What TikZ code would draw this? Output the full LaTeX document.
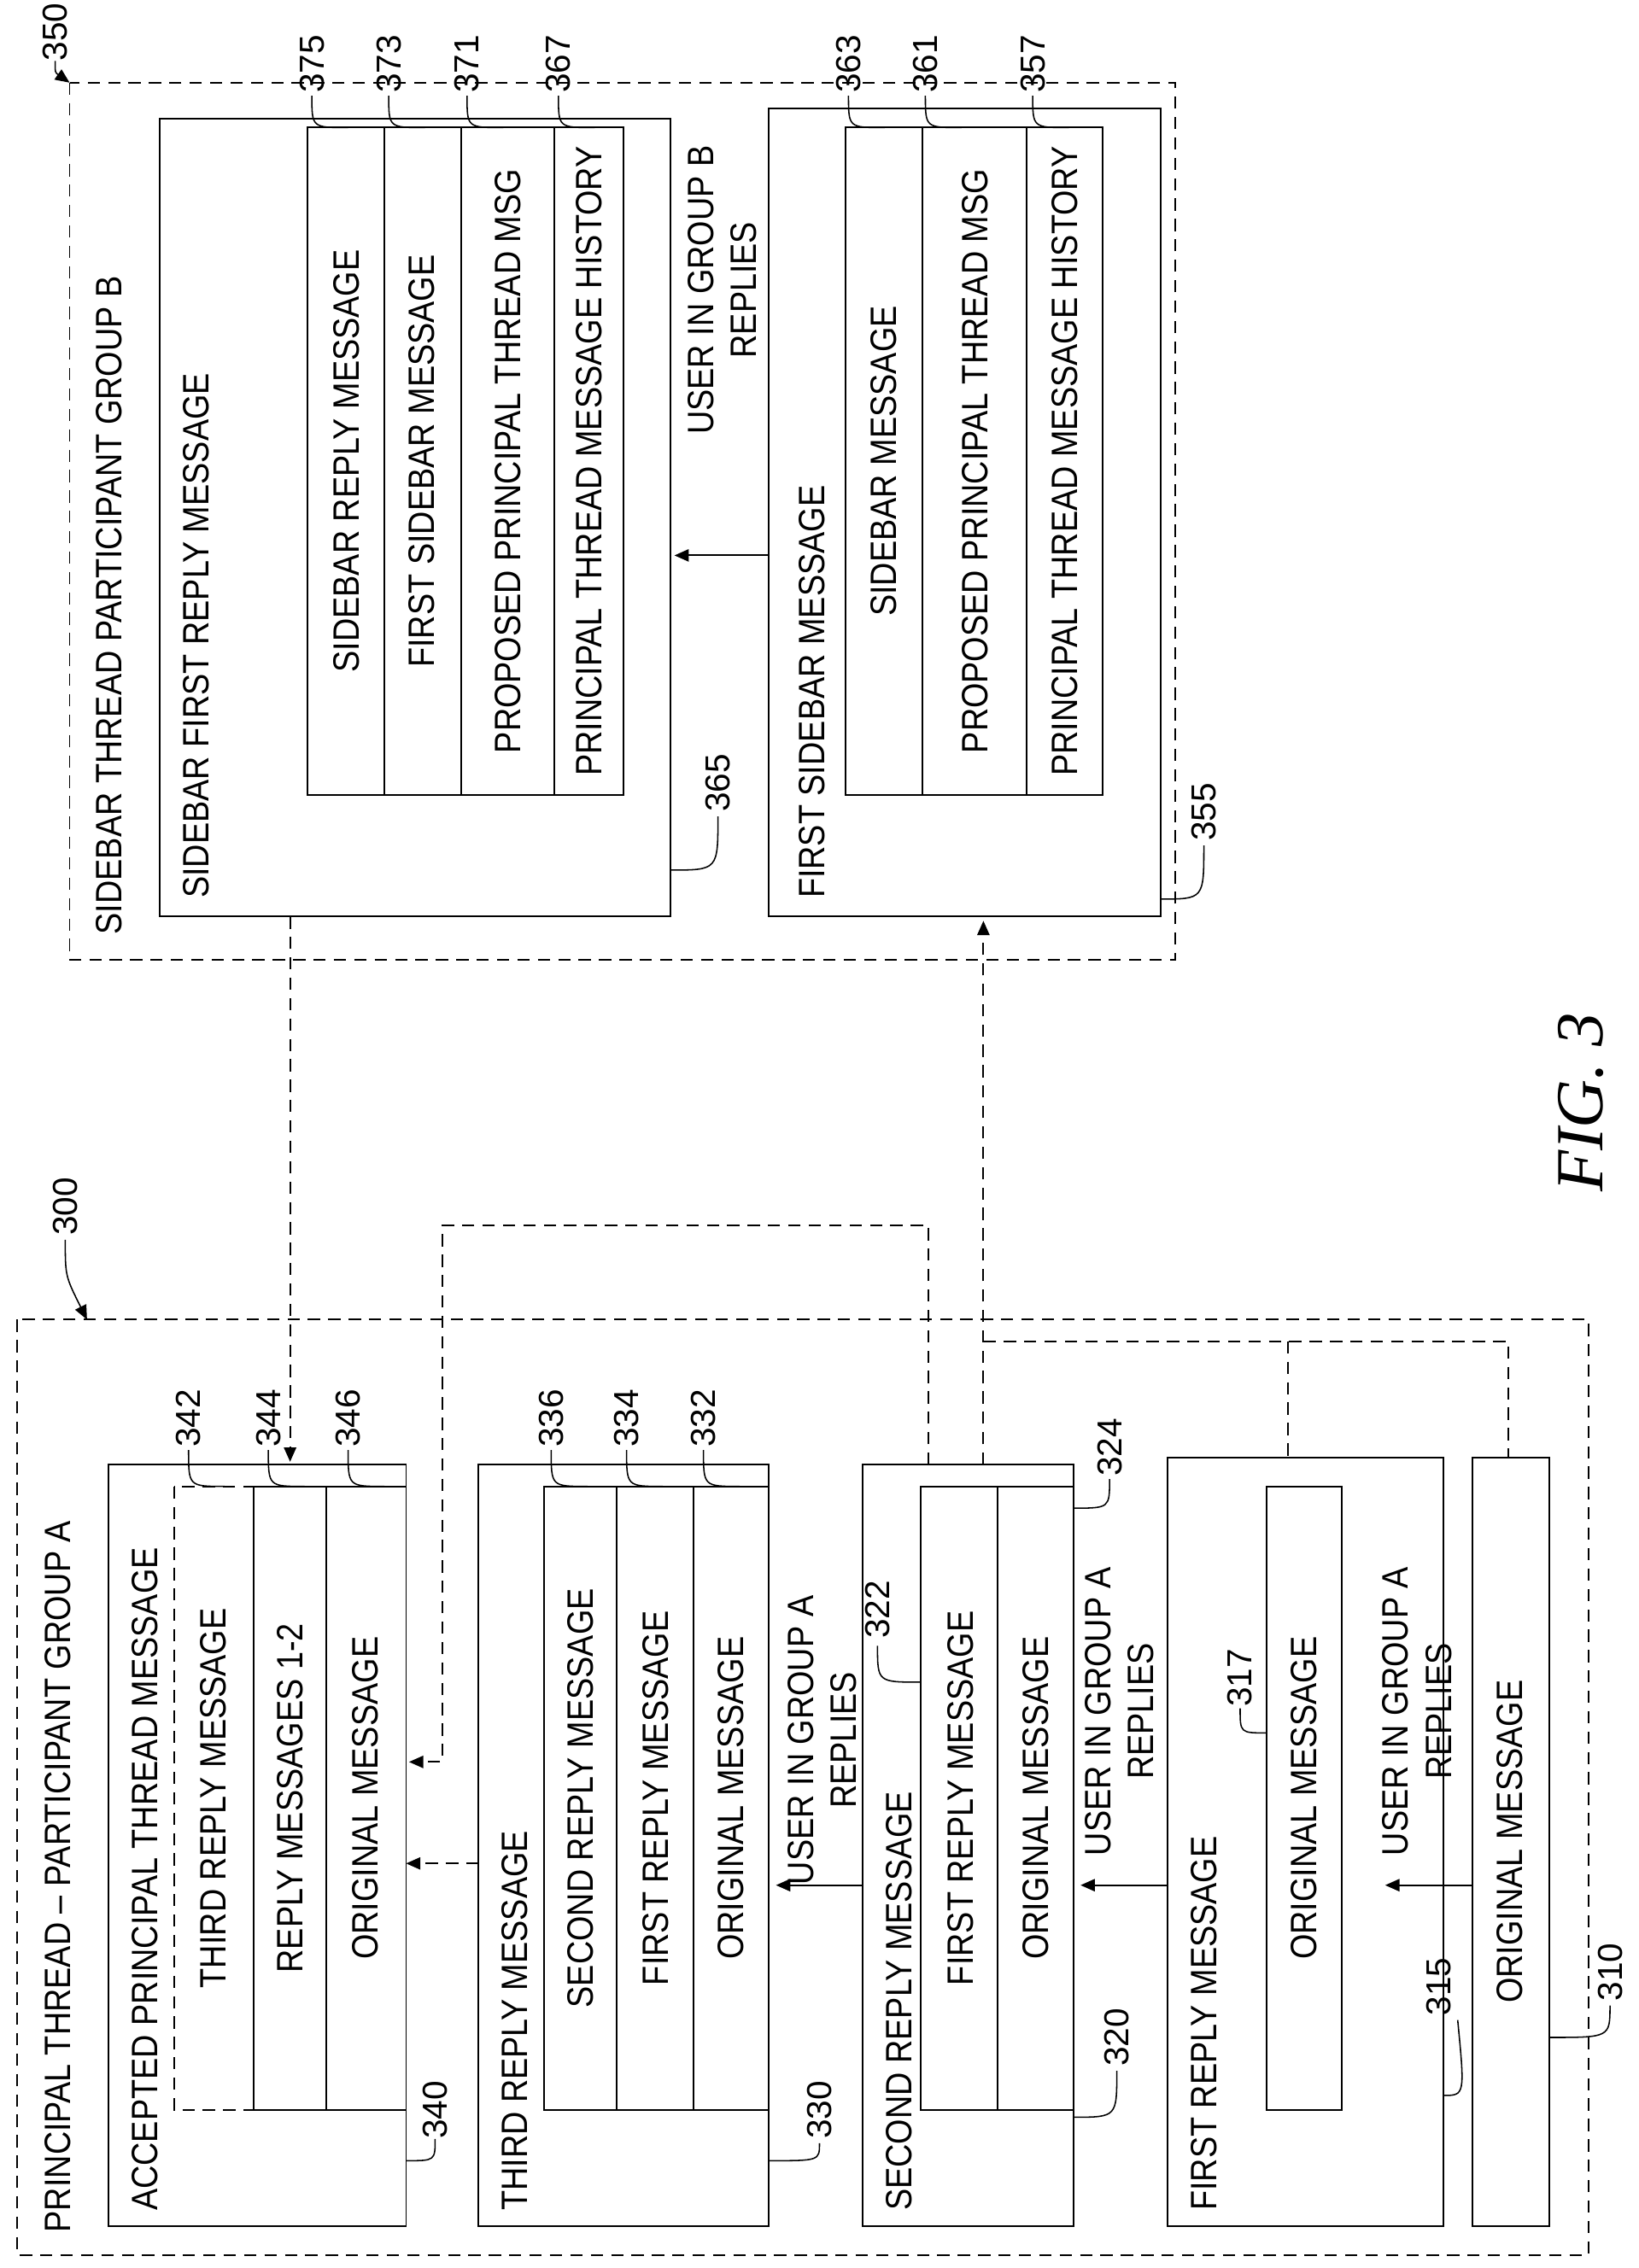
\documentclass[tikz,border=0pt]{standalone}
\usepackage{fontspec}
\setmainfont{Liberation Sans}
\newfontfamily\figfont{Liberation Serif}
\usetikzlibrary{arrows.meta}
\newcommand{\tx}[1]{\scalebox{0.88}[1]{#1}}
\begin{document}
\begin{tikzpicture}[x=0.05cm,y=-0.05cm,line width=1.6pt,
 t/.style={rotate=90,inner sep=0pt,font=\fontsize{36}{42}\selectfont},
 tl/.style={t,anchor=west},
 num/.style={rotate=90,inner sep=0pt,font=\fontsize{34}{40}\selectfont},
 box/.style={draw},
 dbox/.style={draw,dash pattern=on 12pt off 8pt},
 dl/.style={dash pattern=on 12pt off 8pt},
 arr/.style={-{Triangle[length=14pt,width=12pt]}},
 ld/.style={line width=1.3pt}]
\useasboundingbox (0,0) rectangle (1130,1564);
% ---- group A
\draw[dbox] (12,910) rectangle (1095,1555);
\node[tl] (ga) at (40,1540) {\tx{PRINCIPAL THREAD -- PARTICIPANT GROUP A}};
\node[num] (n300) at (45,832) {300};
\draw[ld,arr] (45,855) .. controls (45,880) .. (60,910);
% box 340
\draw[box] (75,1010) rectangle (280,1535);
\node[tl] at (100,1525) {\tx{ACCEPTED PRINCIPAL THREAD MESSAGE}};
\draw[dbox] (120,1025) rectangle (175,1455);
\draw (175,1025) rectangle (225,1455) (225,1025) rectangle (280,1455);
\node[t] at (147,1240) {\tx{THIRD REPLY MESSAGE}};
\node[t] at (200,1240) {\tx{REPLY MESSAGES 1-2}};
\node[t] at (252,1240) {\tx{ORIGINAL MESSAGE}};
\foreach \x/\n in {130/342,185/344,240/346}{
 \node[num] at (\x,978) {\n};
 \draw[ld] (\x,1000) .. controls (\x,1025) .. (\x+25,1025);}
\node[num] at (300,1455) {340};
\draw[ld] (280,1490) .. controls (300,1490) .. (300,1475);
% box 330
\draw[box] (330,1010) rectangle (530,1535);
\node[tl] at (355,1525) {\tx{THIRD REPLY MESSAGE}};
\draw (375,1025) rectangle (425,1455) (425,1025) rectangle (478,1455) (478,1025) rectangle (530,1455);
\node[t] at (400,1240) {\tx{SECOND REPLY MESSAGE}};
\node[t] at (452,1240) {\tx{FIRST REPLY MESSAGE}};
\node[t] at (504,1240) {\tx{ORIGINAL MESSAGE}};
\foreach \x/\n in {380/336,432/334,485/332}{
 \node[num] at (\x,978) {\n};
 \draw[ld] (\x,1000) .. controls (\x,1025) .. (\x+25,1025);}
\node[num] at (565,1455) {330};
\draw[ld] (530,1490) .. controls (565,1490) .. (565,1478);
% box 320
\draw[box] (595,1010) rectangle (740,1535);
\node[tl] at (620,1525) {\tx{SECOND REPLY MESSAGE}};
\draw (635,1025) rectangle (688,1455) (688,1025) rectangle (740,1455);
\node[t] at (662,1240) {\tx{FIRST REPLY MESSAGE}};
\node[t] at (714,1240) {\tx{ORIGINAL MESSAGE}};
\node[num] at (605,1110) {322};
\draw[ld] (605,1135) .. controls (605,1160) .. (635,1160);
\node[num] at (765,998) {324};
\draw[ld] (740,1040) .. controls (765,1040) .. (765,1020);
\node[num] at (770,1405) {320};
\draw[ld] (740,1460) .. controls (770,1460) .. (770,1428);
% box 315
\draw[box] (805,1005) rectangle (995,1535);
\node[tl] at (830,1525) {\tx{FIRST REPLY MESSAGE}};
\draw (873,1025) rectangle (925,1455);
\node[t] at (899,1240) {\tx{ORIGINAL MESSAGE}};
\node[num] at (855,1157) {317};
\draw[ld] (855,1178) .. controls (855,1195) .. (873,1195);
\node[num] at (992,1370) {315};
\draw[ld] (995,1445) .. controls (1010,1445) .. (1005,1393);
% box 310
\draw[box] (1015,1005) rectangle (1068,1535);
\node[t] at (1041,1270) {\tx{ORIGINAL MESSAGE}};
\node[num] at (1110,1360) {310};
\draw[ld] (1068,1405) .. controls (1110,1405) .. (1110,1383);
% replies arrows
\draw[arr] (1015,1300) -- (955,1300);
\node[t,align=center] at (977,1180) {\tx{USER IN GROUP A}\\\tx{REPLIES}};
\draw[arr] (805,1300) -- (745,1300);
\node[t,align=center] at (772,1180) {\tx{USER IN GROUP A}\\\tx{REPLIES}};
\draw[arr] (595,1300) -- (535,1300);
\node[t,align=center] at (567,1200) {\tx{USER IN GROUP A}\\\tx{REPLIES}};
\draw[arr,dl] (330,1285) -- (280,1285);
\draw[arr,dl] (640,1010) -- (640,845) -- (305,845) -- (305,1215) -- (282,1215);
% ---- group B
\draw[dbox] (48,57) rectangle (810,662);
\node[tl] at (75,645) {\tx{SIDEBAR THREAD PARTICIPANT GROUP B}};
\node[num] at (38,22) {350};
\draw[ld,arr] (38,42) .. controls (38,50) .. (48,57);
% box 365
\draw[box] (110,82) rectangle (462,632);
\node[tl] at (135,620) {\tx{SIDEBAR FIRST REPLY MESSAGE}};
\draw (212,88) rectangle (265,548) (265,88) rectangle (318,548) (318,88) rectangle (382,548) (382,88) rectangle (430,548);
\node[t] at (239,318) {\tx{SIDEBAR REPLY MESSAGE}};
\node[t] at (291,318) {\tx{FIRST SIDEBAR MESSAGE}};
\node[t] at (350,318) {\tx{PROPOSED PRINCIPAL THREAD MSG}};
\node[t] at (406,318) {\tx{PRINCIPAL THREAD MESSAGE HISTORY}};
\foreach \x/\n in {215/375,268/373,322/371,385/367}{
 \node[num] at (\x,44) {\n};
 \draw[ld] (\x,66) .. controls (\x,88) .. (\x+25,88);}
\node[num] at (495,540) {365};
\draw[ld] (462,600) .. controls (495,600) .. (495,563);
% box 355
\draw[box] (530,75) rectangle (800,632);
\node[tl] at (560,620) {\tx{FIRST SIDEBAR MESSAGE}};
\draw (583,88) rectangle (636,548) (636,88) rectangle (708,548) (708,88) rectangle (760,548);
\node[t] at (609,318) {\tx{SIDEBAR MESSAGE}};
\node[t] at (672,318) {\tx{PROPOSED PRINCIPAL THREAD MSG}};
\node[t] at (734,318) {\tx{PRINCIPAL THREAD MESSAGE HISTORY}};
\foreach \x/\n in {585/363,638/361,712/357}{
 \node[num] at (\x,44) {\n};
 \draw[ld] (\x,66) .. controls (\x,88) .. (\x+25,88);}
\node[num] at (830,560) {355};
\draw[ld] (800,620) .. controls (830,620) .. (830,583);
\draw[arr] (530,383) -- (465,383);
\node[t,align=center] at (498,200) {\tx{USER IN GROUP B}\\\tx{REPLIES}};
% cross-group dashed
\draw[arr,dl] (200,632) -- (200,1008);
\draw[arr,dl] (678,1010) -- (678,635);
\draw[dl] (678,925) -- (1040,925) -- (1040,1005) (888,925) -- (888,1005);
\node[rotate=90,font=\fontsize{66}{76}\selectfont\figfont\itshape] at (1090,760) {FIG. 3};
\end{tikzpicture}
\end{document}
